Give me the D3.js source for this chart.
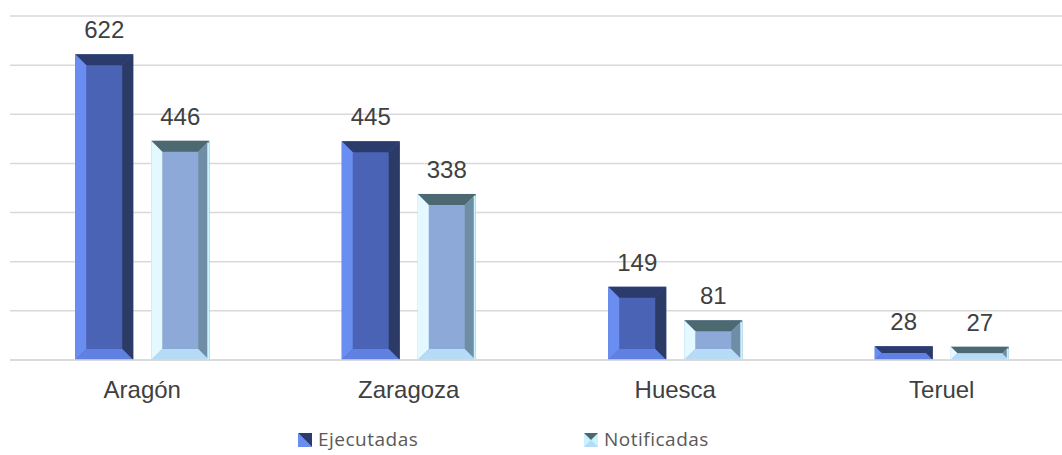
<!DOCTYPE html>
<html>
<head>
<meta charset="utf-8">
<script src="https://d3js.org/d3.v7.min.js"></script>
<style>
  body { margin: 0; background: #fff; }
  svg { display: block; }
</style>
</head>
<body>
<svg width="1062" height="455"></svg>
<script>
const categories = ["Aragón", "Zaragoza", "Huesca", "Teruel"];
const series = ["Ejecutadas", "Notificadas"];
const ejecutadas = [622, 445, 149, 28];
const notificadas = [446, 338, 81, 27];
const yTicks = [0, 100, 200, 300, 400, 500, 600, 700];

const width = 1062, height = 455;
const svg = d3.select("svg");

// bevel colours per series: face, top, left, right, bottom
const bevel = {
  Ejecutadas:  { face: "#4a63b5", top: "#2b3c6c", left: "#6a8df2", right: "#2c3b66", bottom: "#5e81e2" },
  Notificadas: { face: "#8ca9d7", top: "#4c6870", left: "#e4f9ff", right: "#6f8ea6", bottom: "#b6dbf7" }
};

const x0 = d3.scaleBand()
  .domain(categories)
  .range([9, 1075])
  .paddingInner(0.497)
  .paddingOuter(0.2485);

const x1 = d3.scaleBand()
  .domain(series)
  .range([0, x0.bandwidth()])
  .paddingInner(0.237);

const y = d3.scaleLinear()
  .domain([0, 700])
  .range([360, 16]);

// gridlines
svg.append("g")
  .selectAll("line")
  .data(yTicks)
  .join("line")
  .attr("x1", 10)
  .attr("x2", width)
  .attr("y1", d => y(d))
  .attr("y2", d => y(d))
  .style("stroke", "#d9d9d9")
  .style("stroke-width", 1.5);

const rows = categories.map((c, i) => ({
  cat: c,
  vals: [
    { s: "Ejecutadas", v: ejecutadas[i] },
    { s: "Notificadas", v: notificadas[i] }
  ]
}));

const groups = svg.append("g")
  .selectAll("g")
  .data(rows)
  .join("g")
  .attr("transform", d => `translate(${x0(d.cat)},0)`);

groups.each(function(row) {
  const g = d3.select(this);
  row.vals.forEach(d => {
    const bx = x1(d.s), bw = x1.bandwidth();
    const by = y(d.v), bh = y(0) - y(d.v);
    const b = Math.min(11, bh / 2, bw / 2);
    const c = bevel[d.s];
    const x2 = bx + bw, y2 = by + bh;
    g.append("rect")
      .attr("x", bx).attr("y", by).attr("width", bw).attr("height", bh)
      .style("fill", c.face);
    const polys = [
      [c.top,    [[bx, by], [x2, by], [x2 - b, by + b], [bx + b, by + b]]],
      [c.left,   [[bx, by], [bx + b, by + b], [bx + b, y2 - b], [bx, y2]]],
      [c.right,  [[x2, by], [x2, y2], [x2 - b, y2 - b], [x2 - b, by + b]]],
      [c.bottom, [[bx, y2], [bx + b, y2 - b], [x2 - b, y2 - b], [x2, y2]]]
    ];
    polys.forEach(p => {
      g.append("polygon")
        .attr("points", p[1].map(q => q.join(",")).join(" "))
        .style("fill", p[0]);
    });
    if (d.s === "Notificadas") {
      // light outer rim on the right side
      g.append("rect")
        .attr("x", x2 - 2).attr("y", by + 2).attr("width", 2).attr("height", Math.max(0, bh - 2))
        .style("fill", "#c9f3ff");
    }
    g.append("text")
      .attr("x", bx + bw / 2)
      .attr("y", by - 16)
      .attr("text-anchor", "middle")
      .style("font-family", "'Liberation Sans', Arial, sans-serif")
      .style("font-size", "24px")
      .style("fill", "#404040")
      .text(d.v);
  });
});

// baseline
svg.append("line")
  .attr("x1", 10).attr("x2", width)
  .attr("y1", y(0)).attr("y2", y(0))
  .style("stroke", "#d9d9d9")
  .style("stroke-width", 1.5);

// category labels
svg.append("g")
  .selectAll("text")
  .data(categories)
  .join("text")
  .attr("x", d => x0(d) + x0.bandwidth() / 2)
  .attr("y", 398)
  .attr("text-anchor", "middle")
  .style("font-family", "'Liberation Sans', Arial, sans-serif")
  .style("font-size", "24px")
  .style("fill", "#404040")
  .text(d => d);

// legend
const legendX = [298, 584];
const legend = svg.append("g")
  .selectAll("g")
  .data(series)
  .join("g")
  .attr("transform", (d, i) => `translate(${legendX[i]},433)`);

legend.each(function(s) {
  const g = d3.select(this);
  const c = bevel[s];
  const m = 14;
  if (s === "Ejecutadas") {
    g.append("polygon").attr("points", `0,0 0,${m} ${m},${m}`).style("fill", c.left);
    g.append("polygon").attr("points", `0,0 ${m},0 ${m},${m}`).style("fill", c.top);
  } else {
    g.append("rect").attr("width", m).attr("height", m).style("fill", "#c9f3ff");
    g.append("polygon").attr("points", `0,0 ${m},0 ${m / 2},${m / 2}`).style("fill", c.top);
    g.append("polygon").attr("points", `0,${m} ${m},${m} ${m / 2},${m / 2}`).style("fill", c.bottom);
  }
  g.append("text")
    .attr("x", 20)
    .attr("y", 13)
    .style("font-family", "'Open Sans', 'Noto Sans', sans-serif")
    .style("font-size", "19px")
    .style("letter-spacing", "0.5px")
    .style("fill", "#595959")
    .text(s);
});
</script>
</body>
</html>
